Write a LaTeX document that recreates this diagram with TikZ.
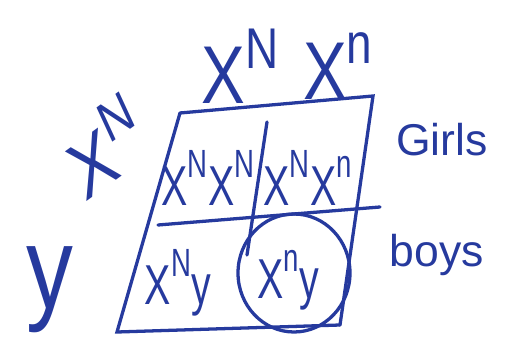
\documentclass[tikz,border=0pt]{standalone}
\usepackage{fontspec}
\setmainfont{Liberation Sans}
\usetikzlibrary{shapes.geometric}
\definecolor{ink}{RGB}{38,58,158}
% allele letter, set high as in the hand-written square
\newcommand{\upal}[1]{\raisebox{0.3em}{\textsuperscript{#1}}}

\begin{document}
\begin{tikzpicture}[x=0.03cm, y=-0.03cm, ink, line width=2.8pt, line cap=round,
  big/.style={font=\fontsize{70}{74}\selectfont, inner sep=0pt, xscale=0.8},
  cell/.style={font=\fontsize{48}{52}\selectfont, inner sep=0pt, xscale=0.7},
  side/.style={font=\fontsize{38}{42}\selectfont, inner sep=0pt}]
  \useasboundingbox (0,0) rectangle (507,341);
  % corners of the (skewed) square
  \coordinate (TL) at (180,113);
  \coordinate (TR) at (373,96);
  \coordinate (BL) at (117,332);
  \coordinate (BR) at (340,325);
  \coordinate (ML) at (158,225);
  \coordinate (MR) at (380,207);
  \coordinate (MT) at (267,122);
  \coordinate (MB) at (247,255);
  \draw (TL)--(TR)--(BR);
  \draw (TL)--(BL)--(BR);
  \draw (ML)--(MR);
  \draw (MT)--(MB);
  % parents
  \node[big] (momA) at (240,66) {X\upal{N}};
  \node[big] (momB) at (338,66) {X\upal{n}};
  \node[big, rotate=30] (dadX) at (104,146) {X\upal{N}};
  \node[big, font=\fontsize{100}{104}\selectfont] (dadY) at (50,290) {y};
  % offspring
  \node[cell] (c11) at (208,178) {X\upal{N}X\upal{N}};
  \node[cell] (c12) at (308,178) {X\upal{N}X\upal{n}};
  \node[cell] (c21) at (178,283) {X\upal{N}y};
  \node[cell] (c22) at (288,280) {X\upal{n}y};
  \node[draw, ellipse, minimum width=112*0.03cm, minimum height=118*0.03cm,
        inner sep=0pt] (ring) at (294,273) {};
  % labels
  \node[side] (girls) at (442,140) {Girls};
  \node[side] (boys) at (437,255) {boys};
\end{tikzpicture}
\end{document}
